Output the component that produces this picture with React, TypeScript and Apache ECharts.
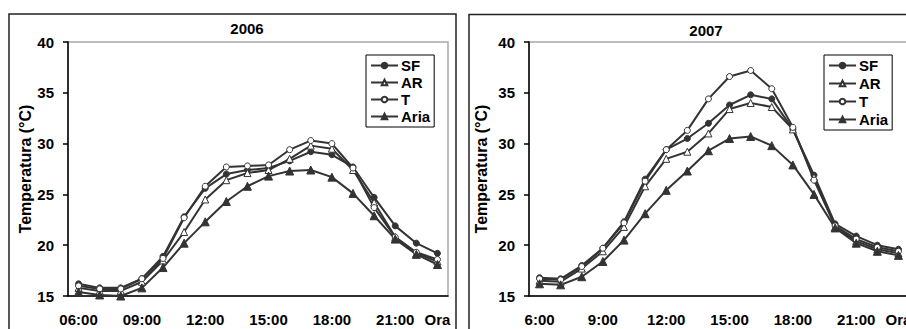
import React, { useEffect, useRef } from "react";
import * as echarts from "echarts";

const hours2006 = ["06:00","07:00","08:00","09:00","10:00","11:00","12:00","13:00","14:00","15:00","16:00","17:00","18:00","19:00","20:00","21:00","22:00","23:00"];
const hours2007 = ["6:00","7:00","8:00","9:00","10:00","11:00","12:00","13:00","14:00","15:00","16:00","17:00","18:00","19:00","20:00","21:00","22:00","23:00"];

const sf2006 = [16.2, 15.8, 15.8, 16.7, 18.9, 22.8, 25.6, 27.0, 27.4, 27.6, 28.3, 29.2, 28.9, 27.7, 24.7, 21.9, 20.2, 19.2];
const ar2006 = [15.8, 15.5, 15.5, 16.4, 18.5, 21.3, 24.5, 26.4, 27.1, 27.4, 28.5, 29.8, 29.5, 27.4, 24.2, 20.8, 19.2, 18.4];
const t2006 = [16.0, 15.7, 15.7, 16.7, 18.7, 22.7, 25.8, 27.7, 27.8, 27.9, 29.4, 30.3, 30.0, 27.6, 23.7, 20.8, 19.3, 18.6];
const aria2006 = [15.4, 15.1, 15.0, 15.8, 17.8, 20.2, 22.3, 24.3, 25.8, 26.8, 27.3, 27.4, 26.7, 25.1, 22.9, 20.6, 19.1, 18.1];

const sf2007 = [16.8, 16.7, 18.0, 19.7, 22.3, 26.5, 29.4, 30.5, 32.0, 33.8, 34.8, 34.4, 31.4, 26.9, 22.1, 20.9, 20.0, 19.6];
const ar2007 = [16.5, 16.4, 17.7, 19.4, 21.8, 25.8, 28.5, 29.2, 31.0, 33.4, 34.0, 33.6, 31.4, 26.7, 21.8, 20.4, 19.6, 19.2];
const t2007 = [16.7, 16.6, 17.9, 19.7, 22.2, 26.3, 29.4, 31.3, 34.4, 36.6, 37.2, 35.4, 31.6, 26.4, 21.9, 20.6, 19.8, 19.4];
const aria2007 = [16.2, 16.1, 16.9, 18.4, 20.5, 23.1, 25.4, 27.3, 29.3, 30.5, 30.7, 29.8, 27.9, 25.0, 21.7, 20.2, 19.4, 19.0];

const seriesNames = ["SF", "AR", "T", "Aria"];
const yTicks = [15, 20, 25, 30, 35, 40];
const years = ["2006", "2007"];

const FONT = "'Liberation Sans', Arial, sans-serif";
const INK = "#333333";

export default function App() {
  const ref = useRef<HTMLDivElement>(null);
  useEffect(() => {
    if (!ref.current) return;
    const chart = echarts.init(ref.current, null, { renderer: "svg" });

    const styleFor = (name: string) => {
      if (name === "SF") return { symbol: "circle", symbolSize: 6, fill: INK };
      if (name === "AR") return { symbol: "triangle", symbolSize: 7, fill: "#ffffff" };
      if (name === "T") return { symbol: "circle", symbolSize: 6, fill: "#ffffff" };
      return { symbol: "triangle", symbolSize: 8, fill: INK };
    };

    const data2006 = [sf2006, ar2006, t2006, aria2006];
    const data2007 = [sf2007, ar2007, t2007, aria2007];

    const makeSeries = (idx: number, data: number[][]) =>
      seriesNames.map((name, i) => {
        const s = styleFor(name);
        return {
          name,
          type: "line",
          xAxisIndex: idx,
          yAxisIndex: idx,
          data: data[i],
          symbol: s.symbol,
          symbolSize: s.symbolSize,
          showAllSymbol: true,
          lineStyle: { color: INK, width: 2 },
          itemStyle: { color: s.fill, borderColor: INK, borderWidth: 1 },
          z: 3,
        };
      });

    const xAxisFor = (idx: number, cats: string[]) => ({
      type: "category",
      gridIndex: idx,
      data: cats,
      boundaryGap: true,
      axisLine: { lineStyle: { color: "#000", width: 1.5 } },
      axisTick: { interval: 0, length: 5, lineStyle: { color: "#000", width: 1.5 } },
      axisLabel: {
        interval: 0,
        margin: 16,
        color: "#000",
        fontFamily: FONT,
        fontWeight: "bold",
        fontSize: 15,
        hideOverlap: false,
        formatter: (v: string, i: number) => (i % 3 === 0 ? v : i === cats.length - 1 ? "Ora" : ""),
      },
      splitLine: { show: false },
    });

    const yAxisFor = (idx: number, gap: number) => ({
      type: "value",
      gridIndex: idx,
      min: yTicks[0],
      max: yTicks[yTicks.length - 1],
      interval: 5,
      name: "Temperatura (°C)",
      nameLocation: "middle",
      nameGap: gap,
      nameTextStyle: { color: "#000", fontFamily: FONT, fontWeight: "bold", fontSize: 16 },
      axisLine: { show: true, lineStyle: { color: "#000", width: 1.5 } },
      axisTick: { show: true, length: 5, lineStyle: { color: "#000", width: 1.5 } },
      axisLabel: { margin: 14, color: "#000", fontFamily: FONT, fontWeight: "bold", fontSize: 15 },
      splitLine: { show: false },
    });

    const legendFor = (left: number, top: number, gap: number) => ({
      data: seriesNames,
      orient: "vertical",
      left,
      top,
      itemWidth: 27,
      itemHeight: 7,
      itemGap: gap,
      padding: [3, 4, 3, 4],
      backgroundColor: "#fff",
      borderColor: "#000",
      borderWidth: 1,
      selectedMode: false,
      textStyle: { color: "#000", fontFamily: FONT, fontWeight: "bold", fontSize: 15, lineHeight: 15, padding: [0, 0, 0, -2] },
    });

    chart.setOption({
      animation: false,
      backgroundColor: "#fff",
      grid: [
        { left: 68, top: 42, width: 380, height: 254, show: true, borderColor: "#a8a8a8", borderWidth: 1.5, outerBoundsMode: "none", containLabel: false },
        { left: 529, top: 42, width: 380, height: 254, show: true, borderColor: "#a8a8a8", borderWidth: 1.5, outerBoundsMode: "none", containLabel: false },
      ],
      xAxis: [xAxisFor(0, hours2006), xAxisFor(1, hours2007)],
      yAxis: [yAxisFor(0, 35), yAxisFor(1, 40)],
      legend: [legendFor(366, 55, 2), legendFor(824, 55, 3)],
      series: [...makeSeries(0, data2006), ...makeSeries(1, data2007)],
      graphic: [
        { type: "rect", shape: { x: 9, y: 14, width: 447, height: 400 }, style: { fill: "none", stroke: "#222", lineWidth: 1.5 }, z: 10, silent: true },
        { type: "rect", shape: { x: 469, y: 14.5, width: 500, height: 400 }, style: { fill: "none", stroke: "#222", lineWidth: 1.5 }, z: 10, silent: true },
        { type: "text", x: 247, y: 28, style: { text: years[0], fill: "#000", font: `bold 15px ${FONT}`, textAlign: "center", textVerticalAlign: "middle" } },
        { type: "text", x: 706, y: 30, style: { text: years[1], fill: "#000", font: `bold 15px ${FONT}`, textAlign: "center", textVerticalAlign: "middle" } },
      ],
    });
    return () => chart.dispose();
  }, []);
  return <div ref={ref} style={{ position: "fixed", left: 0, top: 0, width: 906, height: 329 }} />;
}
